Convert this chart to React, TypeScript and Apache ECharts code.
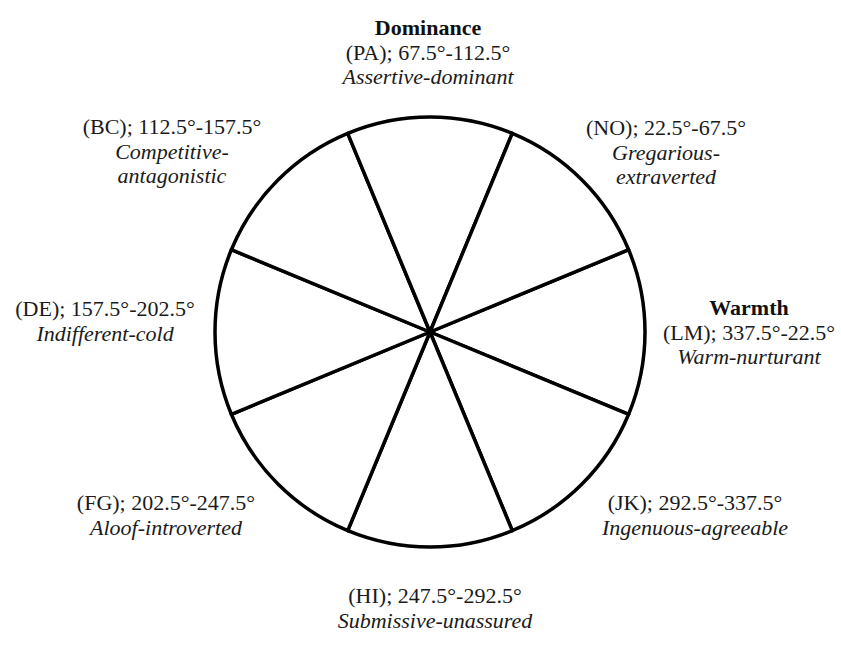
import React, { useEffect, useRef } from "react";
import * as echarts from "echarts";

// Octants of the interpersonal circumplex, clockwise from the Warmth octant
const octants = ["LM", "JK", "HI", "FG", "DE", "BC", "PA", "NO"];
const angleRanges = [
  "337.5°-22.5°",
  "292.5°-337.5°",
  "247.5°-292.5°",
  "202.5°-247.5°",
  "157.5°-202.5°",
  "112.5°-157.5°",
  "67.5°-112.5°",
  "22.5°-67.5°",
];
const descriptors = [
  ["Warm-nurturant"],
  ["Ingenuous-agreeable"],
  ["Submissive-unassured"],
  ["Aloof-introverted"],
  ["Indifferent-cold"],
  ["Competitive-", "antagonistic"],
  ["Assertive-dominant"],
  ["Gregarious-", "extraverted"],
];
const headings = ["Warmth", "", "", "", "", "", "Dominance", ""];
// each octant spans an equal 45° sector
const sectorSizes = [45, 45, 45, 45, 45, 45, 45, 45];

// label block centres (layout only)
const labelPositions: [number, number][] = [
  [749, 332],
  [695, 515],
  [435, 608],
  [166, 515],
  [105, 321],
  [172, 151],
  [428, 52],
  [666, 152],
];

export default function App() {
  const ref = useRef<HTMLDivElement>(null);
  useEffect(() => {
    if (!ref.current) return;
    const chart = echarts.init(ref.current, undefined, { renderer: "svg" });
    const data = octants.map((o, i) => ({
      name: o,
      value: sectorSizes[i],
    }));
    const font = "'Liberation Serif', 'Times New Roman', serif";
    chart.setOption({
      animation: false,
      backgroundColor: "#ffffff",
      series: [
        {
          type: "pie",
          center: [430, 332],
          radius: [0, 215],
          startAngle: 22.5,
          clockwise: true,
          silent: true,
          avoidLabelOverlap: false,
          itemStyle: {
            color: "#ffffff",
            borderColor: "#000000",
            borderWidth: 3.5,
          },
          emphasis: { disabled: true },
          labelLine: { show: false },
          label: {
            show: true,
            position: "outside",
            align: "center",
            fontFamily: font,
            color: "#1a1a1a",
            formatter: (p: any) => {
              const i = p.dataIndex;
              const parts: string[] = [];
              if (headings[i]) parts.push(`{b|${headings[i]}}`);
              parts.push(`{n|(${octants[i]}); ${angleRanges[i]}}`);
              descriptors[i].forEach((d) => parts.push(`{i|${d}}`));
              return parts.join("\n");
            },
            rich: {
              b: {
                fontFamily: font,
                fontWeight: "bold",
                fontSize: 22,
                lineHeight: 24.5,
                color: "#111",
                align: "center",
              },
              n: {
                fontFamily: font,
                fontSize: 22,
                lineHeight: 24.5,
                color: "#1a1a1a",
                align: "center",
              },
              i: {
                fontFamily: font,
                fontStyle: "italic",
                fontSize: 22,
                lineHeight: 24.5,
                color: "#1a1a1a",
                align: "center",
              },
            },
          },
          labelLayout: (params: any) => {
            const pos = labelPositions[params.dataIndex];
            return {
              x: pos[0],
              y: pos[1],
              align: "center",
              verticalAlign: "middle",
              hideOverlap: false,
              moveOverlap: undefined,
            };
          },
          data,
        },
      ],
    });
    return () => chart.dispose();
  }, []);
  return (
    <div
      ref={ref}
      style={{ position: "fixed", left: 0, top: 0, width: 841, height: 646 }}
    />
  );
}
